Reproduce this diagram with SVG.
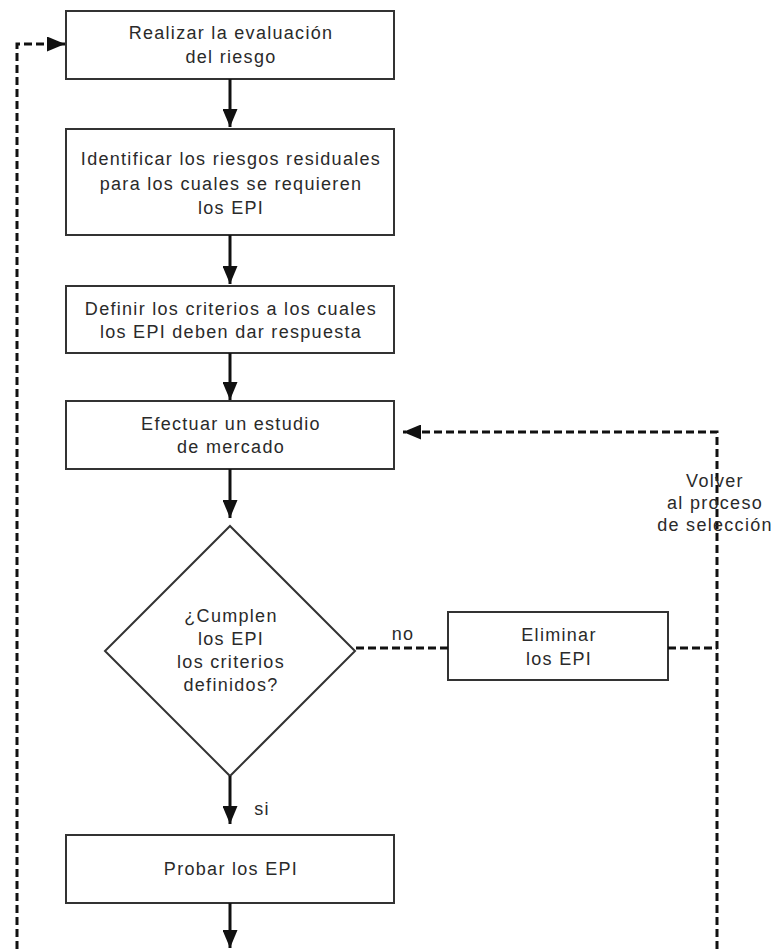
<svg xmlns="http://www.w3.org/2000/svg" width="779" height="949" viewBox="0 0 779 949">
<style>
.box{fill:#fff;stroke:#333;stroke-width:2}
.t{font-family:"Liberation Sans",Arial,sans-serif;font-size:18px;letter-spacing:1.3px;fill:#2a2a2a;text-anchor:middle}
.solid{stroke:#111;stroke-width:3;fill:none}
.dash{stroke:#111;stroke-width:3;fill:none;stroke-dasharray:8 4}
</style>
<defs>
<marker id="ah" viewBox="0 0 12 10" refX="12" refY="5" markerWidth="6" markerHeight="5" markerUnits="strokeWidth" orient="auto">
<path d="M0,0 L12,5 L0,10 z" fill="#111"/>
</marker>
</defs>
<rect width="779" height="949" fill="#fff"/>
<g id="n1"><rect class="box" x="66" y="11" width="328" height="68"/>
<text class="t" x="231" y="39">Realizar la evaluación</text>
<text class="t" x="231" y="63">del riesgo</text></g>
<g id="n2"><rect class="box" x="66" y="129" width="328" height="106"/>
<text class="t" x="231" y="165">Identificar los riesgos residuales</text>
<text class="t" x="231" y="190">para los cuales se requieren</text>
<text class="t" x="231" y="214">los EPI</text></g>
<g id="n3"><rect class="box" x="66" y="286" width="328" height="67"/>
<text class="t" x="231" y="315">Definir los criterios a los cuales</text>
<text class="t" x="231" y="338">los EPI deben dar respuesta</text></g>
<g id="n4"><rect class="box" x="66" y="401" width="328" height="68"/>
<text class="t" x="231" y="430">Efectuar un estudio</text>
<text class="t" x="231" y="453">de mercado</text></g>
<g id="n5"><polygon class="box" stroke-width="1.5" points="230,526 355,651 230,776 105,651"/>
<text class="t" x="231" y="622">¿Cumplen</text>
<text class="t" x="231" y="645">los EPI</text>
<text class="t" x="231" y="668">los criterios</text>
<text class="t" x="231" y="691">definidos?</text></g>
<g id="n6"><rect class="box" x="448" y="612" width="220" height="68"/>
<text class="t" x="559" y="641">Eliminar</text>
<text class="t" x="559" y="665">los EPI</text></g>
<g id="n7"><rect class="box" x="66" y="835" width="328" height="68"/>
<text class="t" x="231" y="875">Probar los EPI</text></g>
<g id="connectors">
<line class="solid" x1="230" y1="79" x2="230" y2="127" marker-end="url(#ah)"/>
<line class="solid" x1="230" y1="235" x2="230" y2="284" marker-end="url(#ah)"/>
<line class="solid" x1="230" y1="353" x2="230" y2="400" marker-end="url(#ah)"/>
<line class="solid" x1="230" y1="469" x2="230" y2="518" marker-end="url(#ah)"/>
<line class="solid" x1="230" y1="776" x2="230" y2="824" marker-end="url(#ah)"/>
<line class="solid" x1="230" y1="903" x2="230" y2="948" marker-end="url(#ah)"/>
<polyline class="dash" points="17,949 17,44 65,44" marker-end="url(#ah)"/>
<polyline class="dash" points="717,949 717,432 403,432" marker-end="url(#ah)"/>
<line class="dash" x1="356" y1="648" x2="448" y2="648"/>
<line class="dash" x1="668" y1="648" x2="717" y2="648"/>
<text class="t" x="403" y="640">no</text>
<text class="t" x="262" y="815">si</text>
<text class="t" x="715" y="487">Volver</text>
<text class="t" x="715" y="509">al proceso</text>
<text class="t" x="715" y="531">de selección</text>
</g>
</svg>
